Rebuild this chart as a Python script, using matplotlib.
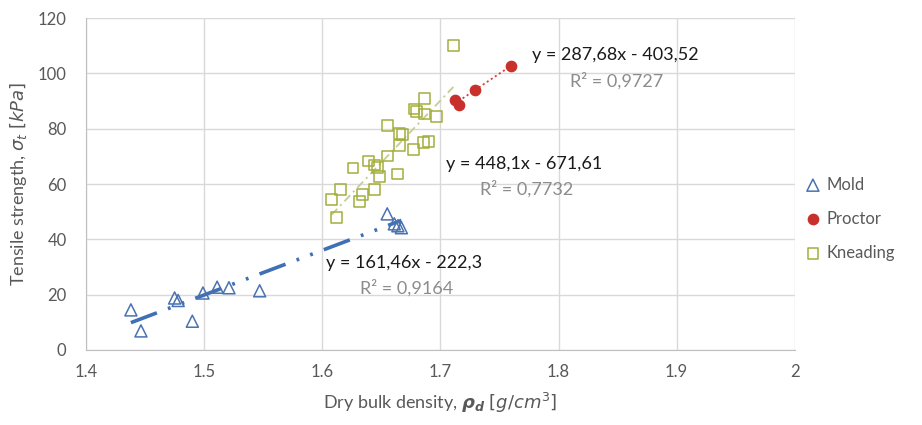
import numpy as np
import matplotlib
matplotlib.use("Agg")
import matplotlib.pyplot as plt

plt.rcParams['font.family'] = ['Lato', 'DejaVu Sans']
plt.rcParams['mathtext.fontset'] = 'dejavusans'
plt.rcParams['lines.scale_dashes'] = False

# Dry bulk density (g/cm3) and tensile strength (kPa) per compaction method
mold_x = [1.438, 1.4465, 1.475, 1.478, 1.490, 1.499, 1.511, 1.521, 1.547,
          1.655, 1.661, 1.664, 1.667]
mold_y = [14.5, 6.9, 18.8, 17.9, 10.4, 20.6, 22.7, 22.5, 21.4,
          49.2, 45.6, 44.9, 44.2]

proctor_x = [1.7596, 1.729, 1.712, 1.7156]
proctor_y = [102.8, 94.1, 90.3, 88.4]

knead_x = [1.711, 1.6865, 1.6777, 1.6797, 1.6868, 1.6967, 1.6552, 1.6657,
           1.668, 1.6657, 1.677, 1.6854, 1.6897, 1.6552, 1.6389, 1.6445,
           1.6465, 1.626, 1.6487, 1.6637, 1.6445, 1.6155, 1.634, 1.6318,
           1.6078, 1.612]
knead_y = [110.2, 90.9, 87.1, 86.1, 85.3, 84.3, 81.1, 78.3,
           78.0, 73.8, 72.5, 74.9, 75.5, 70.1, 68.3, 66.9,
           66.0, 65.8, 62.6, 63.6, 58.1, 58.1, 56.3, 53.6,
           54.5, 48.0]

# Linear trend coefficients (slope, intercept) and R²
mold_fit = (161.46, -222.3, 0.9164)
proctor_fit = (287.68, -403.52, 0.9727)
knead_fit = (448.1, -671.61, 0.7732)

fig = plt.figure(figsize=(9.22, 4.25), dpi=100)
ax = fig.add_axes([0.0933, 0.1765, 0.7687, 0.7811])

blue = '#4a72b0'
red = '#c8302c'
olive = '#a3ad3c'


def trend(xs, fit, **kw):
    xx = np.array([min(xs), max(xs)])
    ax.plot(xx, fit[0] * xx + fit[1], zorder=2, **kw)


trend(mold_x, mold_fit, color='#3f6fb5', lw=2.6,
      linestyle=(0, (20, 8.5, 2, 8.5, 2, 8.5)))
trend(proctor_x, proctor_fit, color='#e23b33', lw=1.3, linestyle=(0, (1.5, 2)))
trend(knead_x, knead_fit, color='#c4cd94', lw=1.3, linestyle=(0, (6, 3, 1.5, 3)))

ax.scatter(mold_x, mold_y, marker='^', s=75, facecolors='none',
           edgecolors=blue, linewidths=1.1, label='Mold', zorder=3)
ax.scatter(proctor_x, proctor_y, marker='o', s=55, color=red,
           label='Proctor', zorder=3)
ax.scatter(knead_x, knead_y, marker='s', s=60, facecolors='none',
           edgecolors=olive, linewidths=1.1, label='Kneading', zorder=3)

eq_fs = 13
labels = [
    (proctor_fit, 1.7776, 106.6, 1.8095, 97.4),
    (knead_fit, 1.7046, 67.2, 1.7333, 58.2),
    (mold_fit, 1.6030, 31.4, 1.6318, 22.4),
]
for fit, ex, ey, rx, ry in labels:
    a, b, r2 = fit
    eq = f"y = {a:g}x - {abs(b):g}".replace('.', ',')
    ax.text(ex, ey, eq, fontsize=eq_fs, color='#1a1a1a', ha='left', va='center')
    ax.text(rx, ry, f"R² = {r2:.4f}".replace('.', ','), fontsize=eq_fs,
            color='#8c8c8c', ha='left', va='center')

ax.set_xlim(1.4, 2.0)
ax.set_ylim(0, 120)
ax.set_xticks(np.arange(1.4, 2.01, 0.1))
ax.set_xticklabels(['1.4', '1.5', '1.6', '1.7', '1.8', '1.9', '2'])
ax.set_yticks(range(0, 121, 20))
ax.grid(True, color='#d9d9d9', lw=1)
ax.set_axisbelow(True)
for side in ['top', 'right']:
    ax.spines[side].set_visible(False)
for side in ['left', 'bottom']:
    ax.spines[side].set_color('#bfbfbf')
ax.tick_params(length=0, labelsize=12, colors='#595959', pad=10)
ax.tick_params(axis='y', pad=14)

ax.set_xlabel(r"Dry bulk density, $\mathbfit{\rho_d}$ $\mathit{[g/cm^3]}$",
              fontsize=13, color='#595959', labelpad=8)
ax.set_ylabel(r"Tensile strength, $\sigma_t$ $\mathit{[kPa]}$",
              fontsize=13, color='#595959', labelpad=6)

leg = ax.legend(loc='center left', bbox_to_anchor=(0.995, 0.395), frameon=False,
                fontsize=12, labelcolor='#595959', labelspacing=1.1,
                handletextpad=0.2, handlelength=1.2, borderaxespad=0.3)

fig.savefig('out.png', dpi=100)
